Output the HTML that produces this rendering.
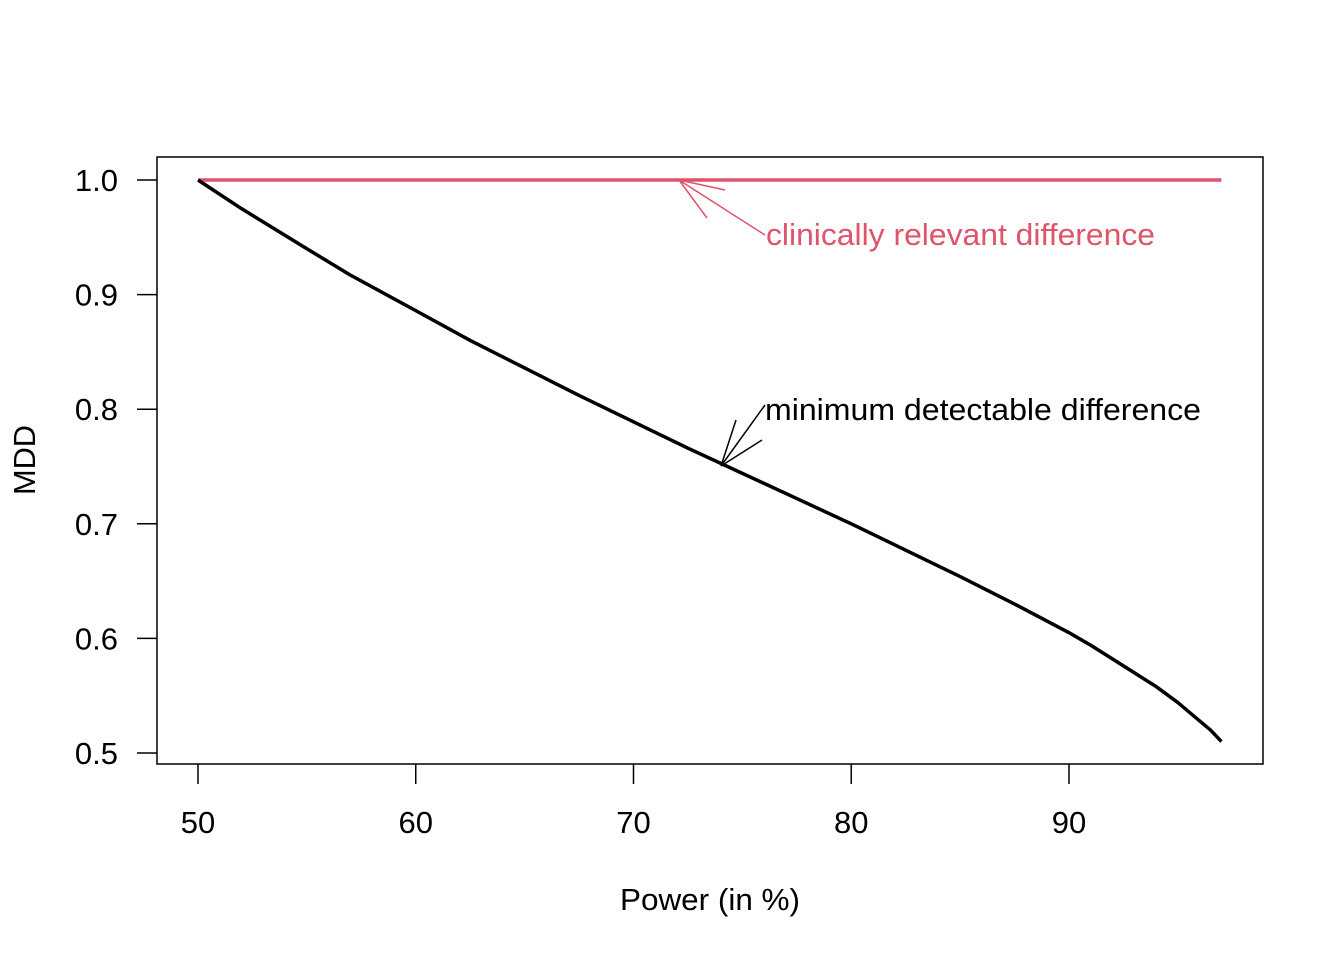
<!DOCTYPE html>
<html><head><meta charset="utf-8"><style>
html,body{margin:0;padding:0;background:#fff;}
svg text{font-family:"Liberation Sans",Arial,sans-serif;}
</style></head><body>
<svg id="chart" width="1344" height="960">
<rect x="0" y="0" width="1344" height="960" fill="#fff"/>
<rect x="157" y="157" width="1106" height="607" fill="none" stroke="#000" stroke-width="1.5"/>
<g id="xaxis"></g>
<g id="yaxis"></g>
<text x="710" y="910" font-size="31" text-anchor="middle" textLength="180" lengthAdjust="spacingAndGlyphs">Power (in %)</text>
<text transform="translate(35,460) rotate(-90)" font-size="31" text-anchor="middle" textLength="70" lengthAdjust="spacingAndGlyphs">MDD</text>
<g id="series"></g>
<g id="annot"></g>
</svg>
<script>
const power = [50,52,55,57,60,62.5,65,67.5,70,72.5,75,77.5,80,82.5,85,87.5,90,91,92,93,94,95,96,96.5,97];
const mdd = [1.000,0.975,0.940,0.917,0.886,0.860,0.836,0.812,0.789,0.766,0.744,0.722,0.700,0.677,0.654,0.630,0.605,0.594,0.582,0.570,0.558,0.544,0.528,0.520,0.510];
const crd = [1,1];
const crdPower = [50,97];
const xTicks = [50,60,70,80,90];
const yTicks = [0.5,0.6,0.7,0.8,0.9,1.0];
const yTickLabels = ["0.5","0.6","0.7","0.8","0.9","1.0"];

const NS="http://www.w3.org/2000/svg";
const sx=v=>198+(v-50)*(1069-198)/40;
const sy=v=>753-(v-0.5)*(753-180)/0.5;
function mk(tag,attrs,parent){const e=document.createElementNS(NS,tag);for(const k in attrs)e.setAttribute(k,attrs[k]);parent.appendChild(e);return e;}
const xa=document.getElementById('xaxis'),ya=document.getElementById('yaxis');
xTicks.forEach(t=>{
  const l=mk('line',{x1:sx(t),x2:sx(t),y1:764,y2:784,stroke:'#000','stroke-width':1.5},xa);
  
  
  const tx=mk('text',{x:sx(t),y:833,'font-size':31,'text-anchor':'middle'},xa);
  tx.textContent=t;
  
  
});
yTicks.forEach((t,i)=>{
  const l=mk('line',{x1:137,x2:157,y1:sy(t),y2:sy(t),stroke:'#000','stroke-width':1.5},ya);
  
  
  const tx=mk('text',{x:118,y:sy(t)+11,'font-size':31,'text-anchor':'end'},ya);
  tx.textContent=yTickLabels[i];
  
  
});
const s=document.getElementById('series');
const p1=mk('polyline',{points:crdPower.map((p,i)=>sx(p)+','+sy(crd[i])).join(' '),fill:'none',stroke:'#DF536B','stroke-width':3.5},s);


const p2=mk('polyline',{points:power.map((p,i)=>sx(p)+','+sy(mdd[i])).join(' '),fill:'none',stroke:'#000','stroke-width':3.5,'stroke-linejoin':'round'},s);


const a=document.getElementById('annot');
const r=mk('path',{d:'M765,235 L679,180 M679,180 L725,190 M679,180 L707,218',stroke:'#DF536B','stroke-width':1.5,fill:'none'},a);


const b=mk('path',{d:'M765,405 L721,466 M721,466 L762,440 M721,466 L736,420',stroke:'#000','stroke-width':1.5,fill:'none'},a);


const t1=mk('text',{x:766,y:245,'font-size':31,fill:'#DF536B',textLength:389,lengthAdjust:'spacingAndGlyphs'},a);
t1.textContent='clinically relevant difference';


const t2=mk('text',{x:765,y:420,'font-size':31,fill:'#000',textLength:436,lengthAdjust:'spacingAndGlyphs'},a);
t2.textContent='minimum detectable difference';


</script>
</body></html>
